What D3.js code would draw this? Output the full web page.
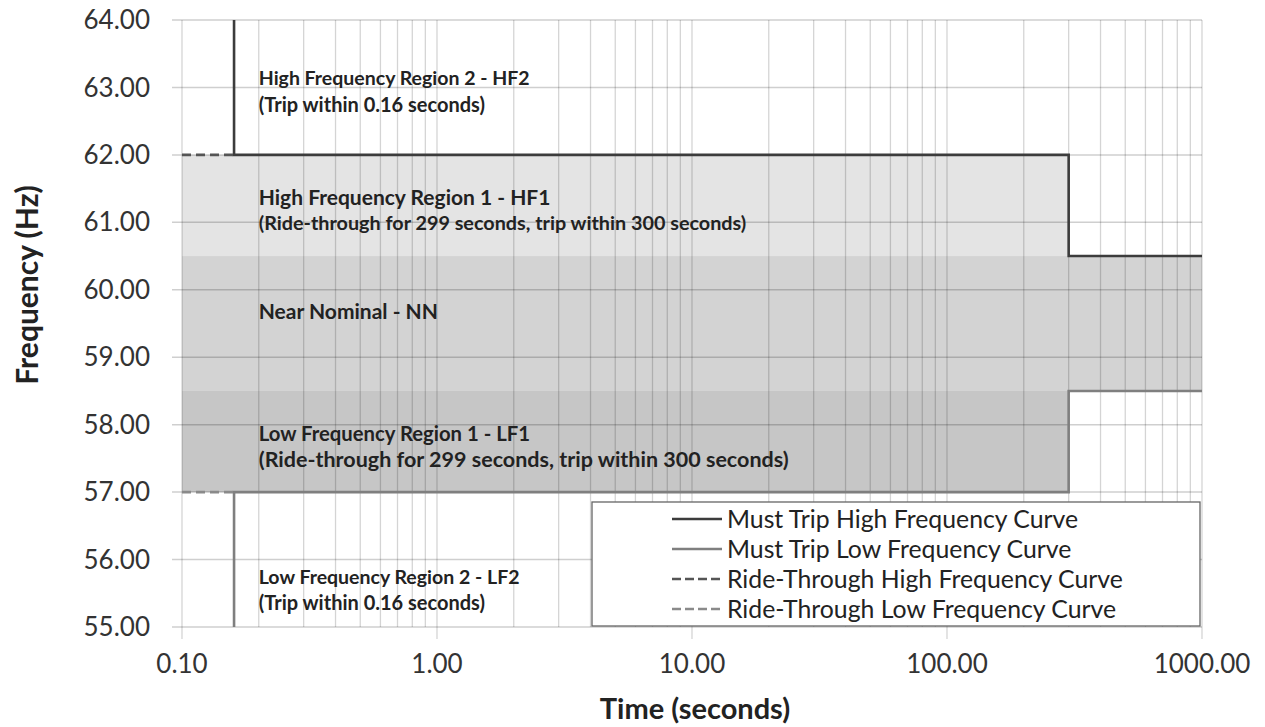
<!DOCTYPE html>
<html>
<head>
<meta charset="utf-8">
<script src="https://cdn.jsdelivr.net/npm/d3@7.9.0/dist/d3.min.js"></script>
<style>
  body { margin: 0; background: #fff; }
  svg { display: block; font-family: Lato, "Open Sans", sans-serif; }
</style>
</head>
<body>
<svg id="chart" width="1265" height="727"></svg>
<script>
// axis ticks
const freqTicks = [55, 56, 57, 58, 59, 60, 61, 62, 63, 64];
const timeTicks = [0.1, 1, 10, 100, 1000];

// shaded regions (time from / to, frequency from / to)
const regionNames = ["HF1", "NN", "LF1"];
const regionTimeFrom = [0.1, 0.1, 0.1];
const regionTimeTo = [300, 1000, 300];
const regionFreqLow = [60.5, 58.5, 57];
const regionFreqHigh = [62, 60.5, 58.5];
const regionFill = ["#e4e4e4", "#d3d3d3", "#c6c6c6"];

// curves
const mustTripHighTime = [0.16, 0.16, 300, 300, 1000];
const mustTripHighFreq = [64, 62, 62, 60.5, 60.5];
const mustTripLowTime = [0.16, 0.16, 300, 300, 1000];
const mustTripLowFreq = [55, 57, 57, 58.5, 58.5];
const rideHighTime = [0.1, 0.16];
const rideHighFreq = [62, 62];
const rideLowTime = [0.1, 0.16];
const rideLowFreq = [57, 57];

// region annotations
const noteLines = [
  "High Frequency Region 2 - HF2",
  "(Trip within 0.16 seconds)",
  "High Frequency Region 1 - HF1",
  "(Ride-through for 299 seconds, trip within 300 seconds)",
  "Near Nominal - NN",
  "Low Frequency Region 1 - LF1",
  "(Ride-through for 299 seconds, trip within 300 seconds)",
  "Low Frequency Region 2 - LF2",
  "(Trip within 0.16 seconds)"
];
const noteFreq = [63.14, 62.74, 61.37, 60.99, 59.68, 57.87, 57.49, 55.74, 55.35];
const noteSize = [19.5, 20, 21, 19.8, 21, 20.3, 21.5, 19.5, 20];

const legendLabels = [
  "Must Trip High Frequency Curve",
  "Must Trip Low Frequency Curve",
  "Ride-Through High Frequency Curve",
  "Ride-Through Low Frequency Curve"
];

const svg = d3.select("#chart");
const margin = { left: 182, right: 63, top: 20, bottom: 100 };
const width = 1265, height = 727;

const x = d3.scaleLog().domain([0.1, 1000]).range([margin.left, width - margin.right]);
const y = d3.scaleLinear().domain([55, 64]).range([height - margin.bottom, margin.top]);

// regions
svg.append("g")
  .selectAll("rect")
  .data(regionNames)
  .join("rect")
  .attr("x", (_, i) => x(regionTimeFrom[i]))
  .attr("width", (_, i) => x(regionTimeTo[i]) - x(regionTimeFrom[i]))
  .attr("y", (_, i) => y(regionFreqHigh[i]))
  .attr("height", (_, i) => y(regionFreqLow[i]) - y(regionFreqHigh[i]))
  .attr("fill", (_, i) => regionFill[i]);

// gridlines
const minorTimes = [];
for (let d = 0.1; d < 1000; d *= 10) {
  for (let k = 1; k < 10; k++) minorTimes.push(+(d * k).toPrecision(3));
}
minorTimes.push(1000);

svg.append("g")
  .selectAll("line")
  .data(minorTimes)
  .join("line")
  .attr("x1", (d) => x(d))
  .attr("x2", (d) => x(d))
  .attr("y1", y(64))
  .attr("y2", (d) => (timeTicks.includes(d) ? y(55) + 12 : y(55)))
  .attr("stroke", "#000")
  .attr("stroke-opacity", 0.17)
  .attr("stroke-width", 1.3);

svg.append("g")
  .selectAll("line")
  .data(freqTicks)
  .join("line")
  .attr("x1", x(0.1) - 10)
  .attr("x2", x(1000))
  .attr("y1", (d) => y(d))
  .attr("y2", (d) => y(d))
  .attr("stroke", "#000")
  .attr("stroke-opacity", 0.19)
  .attr("stroke-width", 1.5);

// tick labels
svg.append("g")
  .selectAll("text")
  .data(freqTicks)
  .join("text")
  .attr("x", 150)
  .attr("y", (d) => y(d))
  .attr("dy", "0.35em")
  .attr("text-anchor", "end")
  .attr("font-size", 26)
  .attr("fill", "#333")
  .text((d) => d.toFixed(2));

svg.append("g")
  .selectAll("text")
  .data(timeTicks)
  .join("text")
  .attr("x", (d) => x(d))
  .attr("y", y(55) + 37)
  .attr("dy", "0.35em")
  .attr("text-anchor", "middle")
  .attr("font-size", 26)
  .attr("fill", "#333")
  .text((d) => d.toFixed(2));

// axis titles
svg.append("text")
  .attr("x", 695)
  .attr("y", 709)
  .attr("dy", "0.35em")
  .attr("text-anchor", "middle")
  .attr("font-size", 29)
  .attr("font-weight", "bold")
  .attr("fill", "#222")
  .text("Time (seconds)");

svg.append("text")
  .attr("transform", "translate(27,285) rotate(-90)")
  .attr("dy", "0.35em")
  .attr("text-anchor", "middle")
  .attr("font-size", 30)
  .attr("font-weight", "bold")
  .attr("fill", "#222")
  .text("Frequency (Hz)");

// curves
const line = d3.line().x((d) => x(d[0])).y((d) => y(d[1]));
const curves = [
  { t: mustTripHighTime, f: mustTripHighFreq, color: "#3c3c3c", dash: null },
  { t: mustTripLowTime, f: mustTripLowFreq, color: "#7f7f7f", dash: null },
  { t: rideHighTime, f: rideHighFreq, color: "#555", dash: "9,5" },
  { t: rideLowTime, f: rideLowFreq, color: "#8a8a8a", dash: "9,5" }
];

svg.append("g")
  .selectAll("path")
  .data(curves)
  .join("path")
  .attr("d", (c) => line(c.t.map((t, i) => [t, c.f[i]])))
  .attr("fill", "none")
  .attr("stroke", (c) => c.color)
  .attr("stroke-width", 2.6)
  .attr("stroke-dasharray", (c) => c.dash);

// region notes
svg.append("g")
  .selectAll("text")
  .data(noteLines)
  .join("text")
  .attr("x", x(0.2))
  .attr("y", (_, i) => y(noteFreq[i]))
  .attr("dy", "0.35em")
  .attr("font-size", (_, i) => noteSize[i])
  .attr("font-weight", "bold")
  .attr("fill", "#222")
  .text((d) => d);

// legend
const legend = svg.append("g");
legend.append("rect")
  .attr("x", 592)
  .attr("y", 502)
  .attr("width", 608)
  .attr("height", 124)
  .attr("fill", "#fff")
  .attr("stroke", "#666")
  .attr("stroke-width", 1.3);

const items = legend.selectAll("g")
  .data(legendLabels)
  .join("g")
  .attr("transform", (_, i) => `translate(672,${519 + i * 30})`);

items.append("line")
  .attr("x1", 0)
  .attr("x2", 50)
  .attr("stroke", (_, i) => curves[i].color)
  .attr("stroke-width", 2.6)
  .attr("stroke-dasharray", (_, i) => (curves[i].dash ? "9,4" : null));

items.append("text")
  .attr("x", 55)
  .attr("dy", "0.35em")
  .attr("font-size", 24.8)
  .attr("fill", "#222")
  .text((d) => d);
</script>
</body>
</html>
